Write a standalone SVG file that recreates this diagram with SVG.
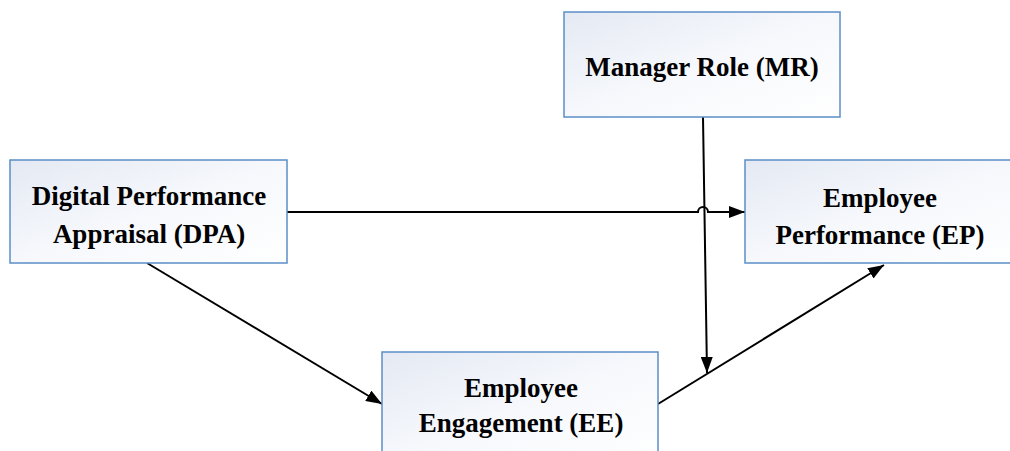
<svg xmlns="http://www.w3.org/2000/svg" width="1010" height="451" viewBox="0 0 1010 451">
<defs>
<linearGradient id="g" x1="0" y1="0" x2="1" y2="1">
<stop offset="0" stop-color="#e4e9f3"/>
<stop offset="0.5" stop-color="#f6f8fc"/>
<stop offset="1" stop-color="#ffffff"/>
</linearGradient>
<marker id="ah" viewBox="0 0 16 12" refX="16" refY="6" markerWidth="16" markerHeight="12" markerUnits="userSpaceOnUse" orient="auto">
<path d="M0,0 L16,6 L0,12 Z" fill="#000"/>
</marker>
</defs>
<style>
.box{fill:url(#g);stroke:#5b8fc7;stroke-width:1.5}
.t{font-family:"Liberation Serif","Times New Roman",serif;font-weight:bold;font-size:27px;fill:#000;text-anchor:middle}
.c{fill:none;stroke:#000;stroke-width:2}
</style>
<rect width="1010" height="451" fill="#fff"/>
<g id="connectors">
<path class="c" d="M287,212 H698 A5,5 0 0 1 708,212 H745" marker-end="url(#ah)"/>
<path class="c" d="M147,263 L382,404" marker-end="url(#ah)"/>
<path class="c" d="M658,404 L884,265" marker-end="url(#ah)"/>
<path class="c" d="M703,117 L707,373" marker-end="url(#ah)"/>
</g>
<g id="MR">
<rect class="box" x="564" y="12" width="276" height="105"/>
<text class="t" x="702" y="76">Manager Role (MR)</text>
</g>
<g id="DPA">
<rect class="box" x="10" y="160" width="277" height="103"/>
<text class="t" x="149" y="205">Digital Performance</text>
<text class="t" x="149" y="243">Appraisal (DPA)</text>
</g>
<g id="EP">
<rect class="box" x="745" y="160" width="280" height="103"/>
<text class="t" x="880" y="207">Employee</text>
<text class="t" x="880" y="244">Performance (EP)</text>
</g>
<g id="EE">
<rect class="box" x="382" y="352" width="276" height="110"/>
<text class="t" x="521" y="397">Employee</text>
<text class="t" x="521" y="432">Engagement (EE)</text>
</g>
</svg>
